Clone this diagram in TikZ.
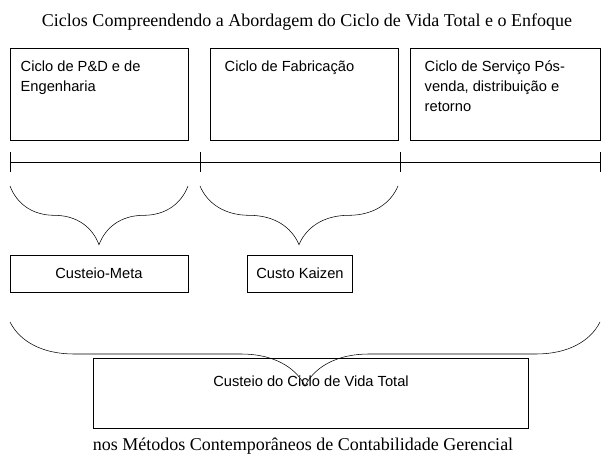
\documentclass[tikz,border=0pt]{standalone}
\usepackage{fontspec}
\setmainfont{Liberation Serif}
\setsansfont{Liberation Sans}
\usetikzlibrary{decorations.pathreplacing}
\tikzset{
  cbox/.style={draw, rectangle, inner sep=0pt},
  ctext/.style={font=\sffamily\fontsize{11}{15}\selectfont, align=left, anchor=north west},
  cbrace/.style={decorate, decoration={brace, mirror, amplitude=#1}}
}
\begin{document}
\begin{tikzpicture}[x=0.75pt, y=-0.75pt]
\useasboundingbox (0,0) rectangle (610,466);
\node (title) at (307,22) {\fontsize{13.5}{15}\selectfont Ciclos Compreendendo a Abordagem do Ciclo de Vida Total e o Enfoque};

% ciclos
\draw (10,48) rectangle (188,140);
\node[ctext] (c1) at (16,56) {Ciclo de P\&D e de\\Engenharia};
\draw (210,48) rectangle (398,140);
\node[ctext] (c2) at (220,56) {Ciclo de Fabricação};
\draw (410,48) rectangle (600,140);
\node[ctext] (c3) at (420,56) {Ciclo de Serviço Pós-\\venda, distribuição e\\retorno};

% linha do tempo
\coordinate (t0) at (10,162);
\coordinate (t3) at (600,162);
\draw (t0) -- (t3);
\foreach \x in {10,200,400,600}
  \draw (\x,152) -- (\x,172);

% chaves
\draw[cbrace=44pt] (10,186) -- (188,186);
\draw[cbrace=44pt] (200,186) -- (398,186);
\draw[cbrace=48pt] (10,322) -- (600,322);

% custos
\draw (10,255) rectangle (188,292);
\node (meta) at (99,273) {\sffamily\fontsize{11}{13}\selectfont Custeio-Meta};
\draw (247,255) rectangle (352,292);
\node (kaizen) at (300,273) {\sffamily\fontsize{11}{13}\selectfont Custo Kaizen};
\draw (93,358) rectangle (528,428);
\node (total) at (311,381) {\sffamily\fontsize{11}{13}\selectfont Custeio do Ciclo de Vida Total};

\node (foot) at (303,446) {\fontsize{13.5}{15}\selectfont nos Métodos Contemporâneos de Contabilidade Gerencial};
\end{tikzpicture}
\end{document}
